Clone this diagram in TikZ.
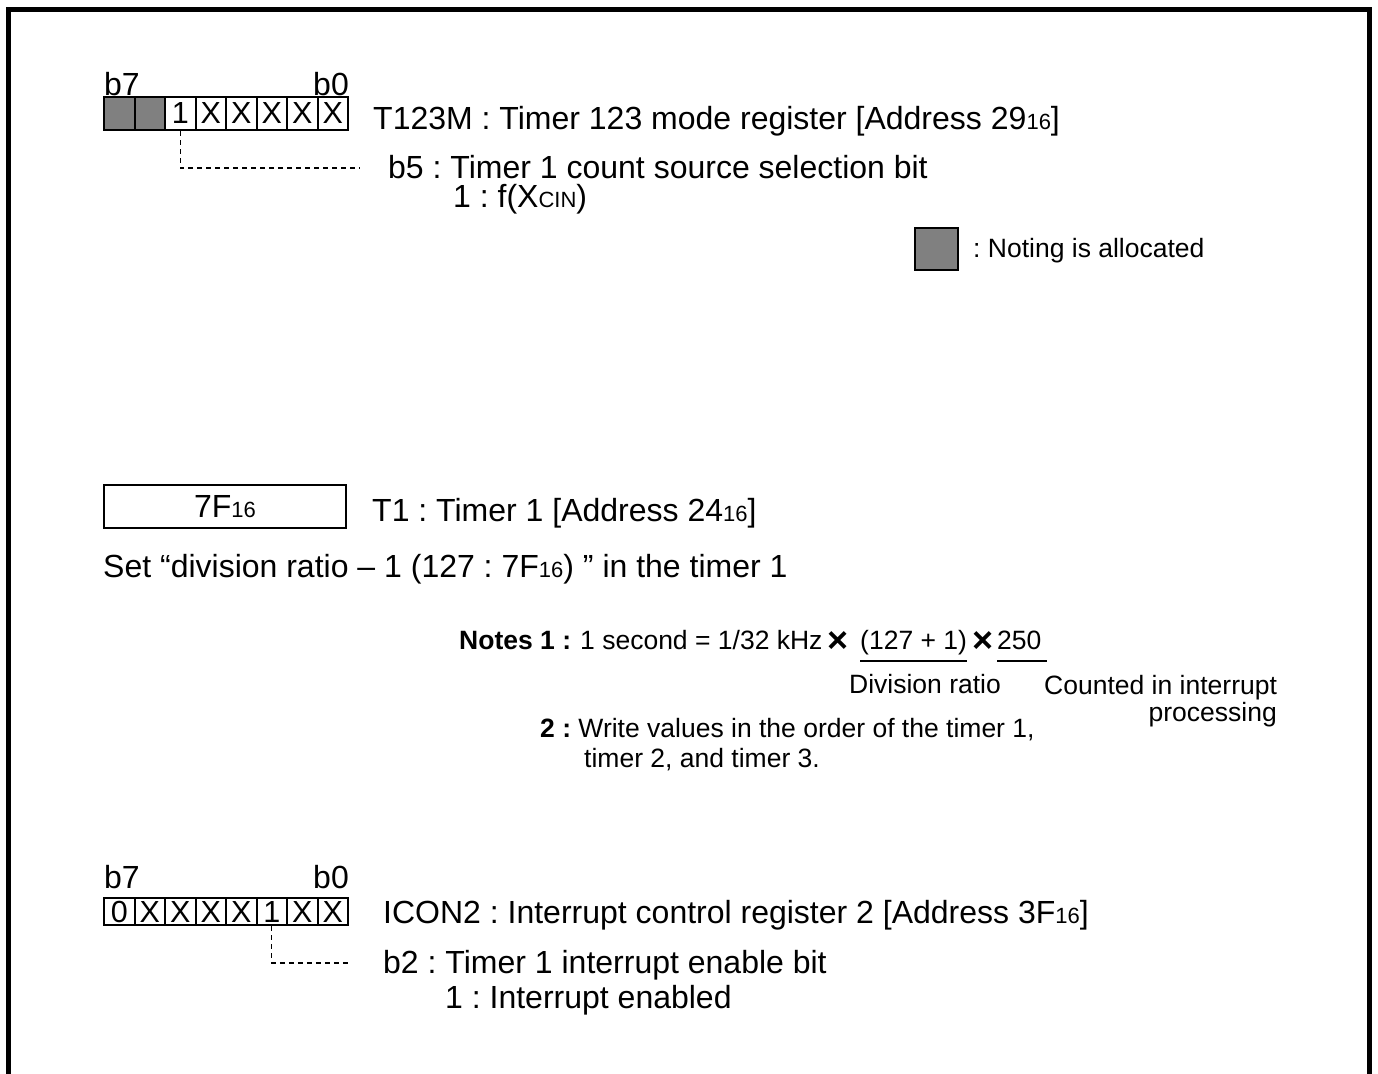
\documentclass[tikz,border=0pt]{standalone}
\usepackage{fontspec}
\setmainfont{Liberation Sans}
\frenchspacing
\newcommand{\mainsz}{\fontsize{32}{36}\selectfont}
\newcommand{\cellsz}{\fontsize{30.5}{34}\selectfont}
\newcommand{\notesz}{\fontsize{26.5}{30}\selectfont}
\newcommand{\smallsz}{\fontsize{22}{24}\selectfont}
\newcommand{\hexsub}[1]{{\smallsz #1}}
\newcommand{\mult}{\raisebox{-3pt}{\fontsize{36}{36}\selectfont\bfseries ×}}
\definecolor{regfill}{HTML}{808080}
\begin{document}
\begin{tikzpicture}[x=1pt,y=-1pt,
  txt/.style={anchor=base west, inner sep=0pt, font=\mainsz},
  txtr/.style={anchor=base east, inner sep=0pt, font=\mainsz},
  ntxt/.style={anchor=base west, inner sep=0pt, font=\notesz},
  cell/.style={draw, line width=2pt, minimum width=30.5pt, inner sep=0pt, font=\cellsz},
  leader/.style={dash pattern=on 5pt off 4pt, line width=1.2pt},
  uline/.style={line width=2pt},
  frame/.style={line width=5pt}]
\useasboundingbox (0,0) rectangle (1378,1073);
% frame
\coordinate (fbl) at (8.5,1080);
\coordinate (ftl) at (8.5,9.5);
\coordinate (ftr) at (1369.5,9.5);
\coordinate (fbr) at (1369.5,1080);
\draw[frame] (fbl) -- (ftl) -- (ftr) -- (fbr);

% register T123M
\node[txt] (rab7) at (104,95) {b7};
\node[txtr] (rab0) at (349,95) {b0};
\foreach \i/\t/\f in {0//regfill,1//regfill,2/1/white,3/X/white,4/X/white,5/X/white,6/X/white,7/X/white}
  \node[cell, minimum height=33pt, fill=\f] (ra\i) at ({119.25+30.5*\i},113.5) {\t};
\node[txt] (ratitle) at (373,129) {T123M : Timer 123 mode register [Address 29\hexsub{16}]};
\coordinate (rak) at (180.25,168);
\coordinate (raend) at (360,168);
\draw[leader] (ra2.south) -- (rak) -- (raend);
\node[txt] (rab5) at (388,178) {b5 : Timer 1 count source selection bit};
\node[txt] (rab5v) at (453,207) {1 : f(X\hexsub{CIN})};

% legend
\node[draw, line width=2pt, fill=regfill, minimum width=43pt, minimum height=42pt, inner sep=0pt] (leg) at (936.5,249) {};
\node[ntxt] (legt) at (973,257) {: Noting is allocated};

% timer 1
\node[draw, line width=2pt, minimum width=242pt, minimum height=43pt, inner sep=0pt, font=\mainsz] (t1) at (225,506.5) {7F\hexsub{16}};
\node[txt] (t1t) at (372,521) {T1 : Timer 1 [Address 24\hexsub{16}]};
\node[txt] (set) at (103,577) {Set “division ratio – 1 (127 : 7F\hexsub{16}) ” in the timer 1};

% notes
\node[ntxt, font=\notesz\bfseries] (n1) at (459,649) {Notes 1 :};
\node[ntxt] (n1b) at (580,649) {1 second = 1/32 kHz};
\node[ntxt] (x1) at (827,649) {\mult};
\node[ntxt] (div) at (860,649) {(127 + 1)};
\node[ntxt] (x2) at (972,649) {\mult};
\node[ntxt] (cnt) at (997,649) {250};
\draw[uline] ([yshift=-12pt]div.base west) -- ([yshift=-12pt]div.base east);
\draw[uline] ([yshift=-12pt]cnt.base west) -- ([yshift=-12pt,xshift=5pt]cnt.base east);
\node[ntxt] (divl) at (849,693) {Division ratio};
\node[ntxt] (cntl) at (1044,694) {Counted in interrupt};
\node[anchor=base east, inner sep=0pt, font=\notesz] (cntl2) at (1277,721) {processing};
\node[ntxt] (n2) at (540,737) {\textbf{2 :} Write values in the order of the timer 1,};
\node[ntxt] (n2b) at (584,767) {timer 2, and timer 3.};

% register ICON2
\node[txt] (rbb7) at (104,888) {b7};
\node[txtr] (rbb0) at (349,888) {b0};
\foreach \i/\t in {0/0,1/X,2/X,3/X,4/X,5/1,6/X,7/X}
  \node[cell, minimum height=27pt, fill=white] (rb\i) at ({119.25+30.5*\i},911.5) {\t};
\node[txt] (rbtitle) at (383,923) {ICON2 : Interrupt control register 2 [Address 3F\hexsub{16}]};
\coordinate (rbk) at (271.75,963);
\coordinate (rbend) at (350,963);
\draw[leader] (rb5.south) -- (rbk) -- (rbend);
\node[txt] (rbb2) at (383,973) {b2 : Timer 1 interrupt enable bit};
\node[txt] (rbb2v) at (445,1008) {1 : Interrupt enabled};
\end{tikzpicture}
\end{document}
